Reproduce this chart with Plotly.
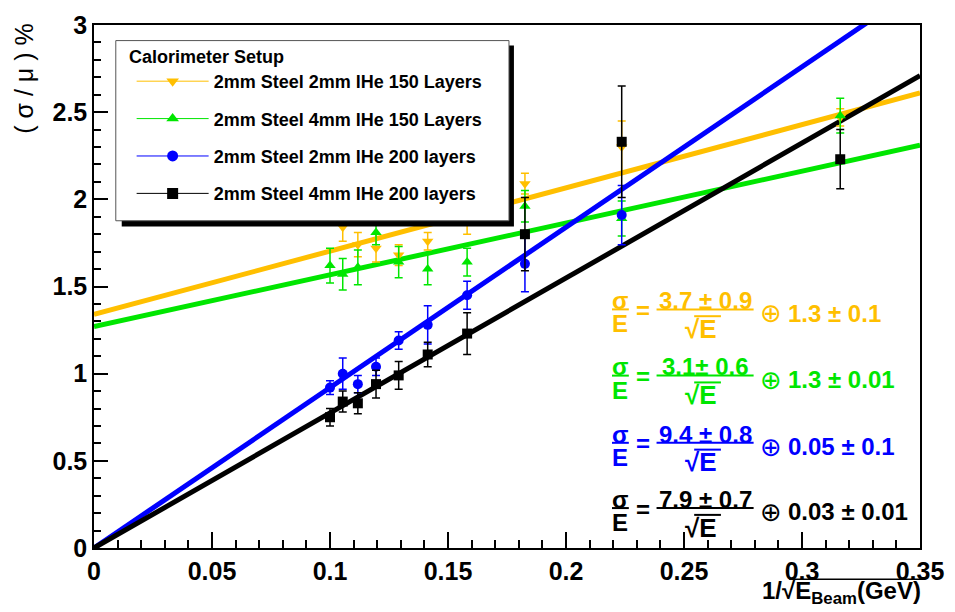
import plotly.graph_objects as go

# ---------------- data ----------------
x_vals = [0.1, 0.1054, 0.1118, 0.1195, 0.1291, 0.1414, 0.1581, 0.1826, 0.2236, 0.3162]

series_names = [
    "2mm Steel 2mm lHe 150 Layers",
    "2mm Steel 4mm lHe 150 Layers",
    "2mm Steel 2mm lHe 200 layers",
    "2mm Steel 4mm lHe 200 layers",
]
series_colors = ["#FFBF00", "#00E600", "#0000FF", "#000000"]
series_symbols = ["triangle-down", "triangle-up", "circle", "square"]

y_yellow = [None, 1.84, 1.74, 1.72, 1.68, 1.76, 1.88, 2.09, 2.30, 2.47]
e_yellow = [0, 0.08, 0.07, 0.08, 0.06, 0.05, 0.08, 0.06, 0.15, 0.05]
y_green = [1.62, 1.57, 1.61, 1.81, 1.64, 1.60, 1.64, 1.96, 1.89, 2.48]
e_green = [0.10, 0.09, 0.10, 0.07, 0.09, 0.09, 0.08, 0.09, 0.10, 0.10]
y_blue = [0.92, 1.00, 0.94, 1.04, 1.19, 1.28, 1.45, 1.63, 1.91, None]
e_blue = [0.04, 0.09, 0.05, 0.05, 0.05, 0.11, 0.08, 0.16, 0.17, 0]
y_black = [0.75, 0.84, 0.83, 0.94, 0.99, 1.11, 1.23, 1.80, 2.33, 2.23]
e_black = [0.05, 0.06, 0.06, 0.08, 0.08, 0.07, 0.12, 0.21, 0.32, 0.17]

series_y = [y_yellow, y_green, y_blue, y_black]
series_e = [e_yellow, e_green, e_blue, e_black]

# fit lines (end points)
fit_x = [0.0, 0.35]
fit_yellow = [1.34, 2.61]
fit_green = [1.27, 2.31]
fit_blue = [0.0, 3.22]
fit_black = [0.0, 2.71]
fit_lines = [fit_yellow, fit_green, fit_blue, fit_black]

# formula texts
f_num = ["3.7 ± 0.9", "3.1± 0.6", "9.4 ± 0.8", "7.9 ± 0.7"]
f_const = ["1.3 ± 0.1", "1.3 ± 0.01", "0.05 ± 0.1", "0.03 ± 0.01"]

x_ticks = [0, 0.05, 0.1, 0.15, 0.2, 0.25, 0.3, 0.35]
y_ticks = [0, 0.5, 1, 1.5, 2, 2.5, 3]

legend_title = "Calorimeter Setup"
y_title = "( σ / μ ) %"
x_title = "1/√E<sub>Beam</sub>(GeV)"

# ---------------- layout geometry ----------------
W, H = 955, 612
L, R, T, B = 94, 27, 11, 64
PW = W - L - R
PH = H - T - B


def px(xp):
    return (xp - L) / PW


def py(yp):
    return (H - B - yp) / PH


FONT = "Liberation Sans, Arial, Helvetica, sans-serif"

fig = go.Figure()

# fit lines
for fy, col in zip(fit_lines, series_colors):
    fig.add_trace(go.Scatter(x=fit_x, y=fy, mode="lines",
                             line=dict(color=col, width=5),
                             showlegend=False, hoverinfo="skip"))

# data points
for name, ys, es, col, sym in zip(series_names, series_y, series_e,
                                  series_colors, series_symbols):
    fig.add_trace(go.Scatter(
        x=x_vals, y=ys, mode="markers", showlegend=False,
        marker=dict(color=col, symbol=sym, size=10),
        error_y=dict(type="data", array=es, color=col, thickness=1.5, width=4),
    ))

# legend entries
for i, (name, col, sym) in enumerate(zip(series_names, series_colors, series_symbols)):
    fig.add_trace(go.Scatter(
        x=[None], y=[None], mode="lines+markers", name=name,
        legendgroup=f"g{i}",
        line=dict(color=col, width=1),
        marker=dict(color=col, symbol=sym, size=11),
    ))

shapes = []
# legend shadow + box
shapes.append(dict(type="rect", xref="paper", yref="paper", layer="above",
                   x0=px(122), x1=px(518), y0=py(218), y1=py(32),
                   fillcolor="black", line=dict(width=0)))
shapes.append(dict(type="rect", xref="paper", yref="paper", layer="above",
                   x0=px(116), x1=px(513), y0=py(212), y1=py(27),
                   fillcolor="white", line=dict(color="#555555", width=1)))

annotations = []
annotations.append(dict(xref="paper", yref="paper", x=px(127), y=py(44),
                        text=legend_title, showarrow=False, xanchor="left",
                        yanchor="middle",
                        font=dict(family=FONT, size=18, color="black", weight="bold")))

# formulas
rows_y = [303, 371, 440, 507]
for y0, col, num, const in zip(rows_y, series_colors, f_num, f_const):
    fb = dict(family=FONT, size=24, color=col, weight="bold")
    annotations.append(dict(xref="paper", yref="paper", x=px(625), y=py(y0 - 9),
                            text="σ", showarrow=False, xanchor="center",
                            yanchor="middle", font=fb))
    annotations.append(dict(xref="paper", yref="paper", x=px(625), y=py(y0 + 15),
                            text="E", showarrow=False, xanchor="center",
                            yanchor="middle", font=fb))
    shapes.append(dict(type="line", xref="paper", yref="paper", layer="above",
                       x0=px(617), x1=px(634), y0=py(y0), y1=py(y0),
                       line=dict(color=col, width=2)))
    annotations.append(dict(xref="paper", yref="paper", x=px(648), y=py(y0 + 1),
                            text="=", showarrow=False, xanchor="center",
                            yanchor="middle", font=fb))
    annotations.append(dict(xref="paper", yref="paper", x=px(711), y=py(y0 - 9),
                            text=num, showarrow=False, xanchor="center",
                            yanchor="middle", font=fb))
    shapes.append(dict(type="line", xref="paper", yref="paper", layer="above",
                       x0=px(662), x1=px(760), y0=py(y0), y1=py(y0),
                       line=dict(color=col, width=2)))
    annotations.append(dict(xref="paper", yref="paper", x=px(707), y=py(y0 + 20),
                            text="√E", showarrow=False, xanchor="center",
                            yanchor="middle", font=dict(family=FONT, size=26,
                                                        color=col, weight="bold")))
    shapes.append(dict(type="line", xref="paper", yref="paper", layer="above",
                       x0=px(700), x1=px(727), y0=py(y0 + 7), y1=py(y0 + 7),
                       line=dict(color=col, width=2)))
    annotations.append(dict(xref="paper", yref="paper", x=px(764), y=py(y0 + 4),
                            text="⊕", showarrow=False, xanchor="left",
                            yanchor="middle",
                            font=dict(family="DejaVu Sans", size=26, color=col)))
    annotations.append(dict(xref="paper", yref="paper", x=px(793), y=py(y0 + 4),
                            text=const, showarrow=False, xanchor="left",
                            yanchor="middle", font=fb))

# axis titles
annotations.append(dict(xref="paper", yref="paper", x=px(931), y=py(612),
                        text=x_title, showarrow=False,
                        xanchor="right", yanchor="bottom",
                        font=dict(family=FONT, size=24, color="black", weight="bold")))
shapes.append(dict(type="line", xref="paper", yref="paper", layer="above",
                   x0=px(796), x1=px(931), y0=py(580), y1=py(580),
                   line=dict(color="black", width=1.5)))
annotations.append(dict(xref="paper", yref="paper", x=px(23), y=py(8),
                        text=y_title, showarrow=False, textangle=-90,
                        xanchor="center", yanchor="top",
                        font=dict(family=FONT, size=25, color="black")))

fig.update_layout(
    width=W, height=H,
    margin=dict(l=L, r=R, t=T, b=B),
    paper_bgcolor="white", plot_bgcolor="white",
    shapes=shapes, annotations=annotations,
    showlegend=True,
    legend=dict(
        x=px(132), y=py(50), xanchor="left", yanchor="top",
        bgcolor="rgba(0,0,0,0)", borderwidth=0,
        font=dict(family=FONT, size=18, color="black", weight="bold"),
        tracegroupgap=11, itemwidth=72,
    ),
    xaxis=dict(range=[0, 0.35], tickvals=x_ticks, ticks="inside", ticklen=16,
               tickwidth=1.5, tickcolor="black", ticklabeloverflow="allow",
               minor=dict(dtick=0.01, ticks="inside", ticklen=8, tickwidth=1.5,
                          tickcolor="black"),
               showgrid=False, zeroline=False, showline=True, linecolor="black",
               linewidth=1.5, mirror=True,
               tickfont=dict(family=FONT, size=25, color="black", weight="bold")),
    yaxis=dict(range=[0, 3], tickvals=y_ticks, ticks="inside", ticklen=14,
               tickwidth=1.5, tickcolor="black", ticklabeloverflow="allow",
               minor=dict(dtick=0.1, ticks="inside", ticklen=7, tickwidth=1.5,
                          tickcolor="black"),
               showgrid=False, zeroline=False, showline=True, linecolor="black",
               linewidth=1.5, mirror=True,
               tickfont=dict(family=FONT, size=25, color="black", weight="bold")),
)

fig.write_html("out.html")
